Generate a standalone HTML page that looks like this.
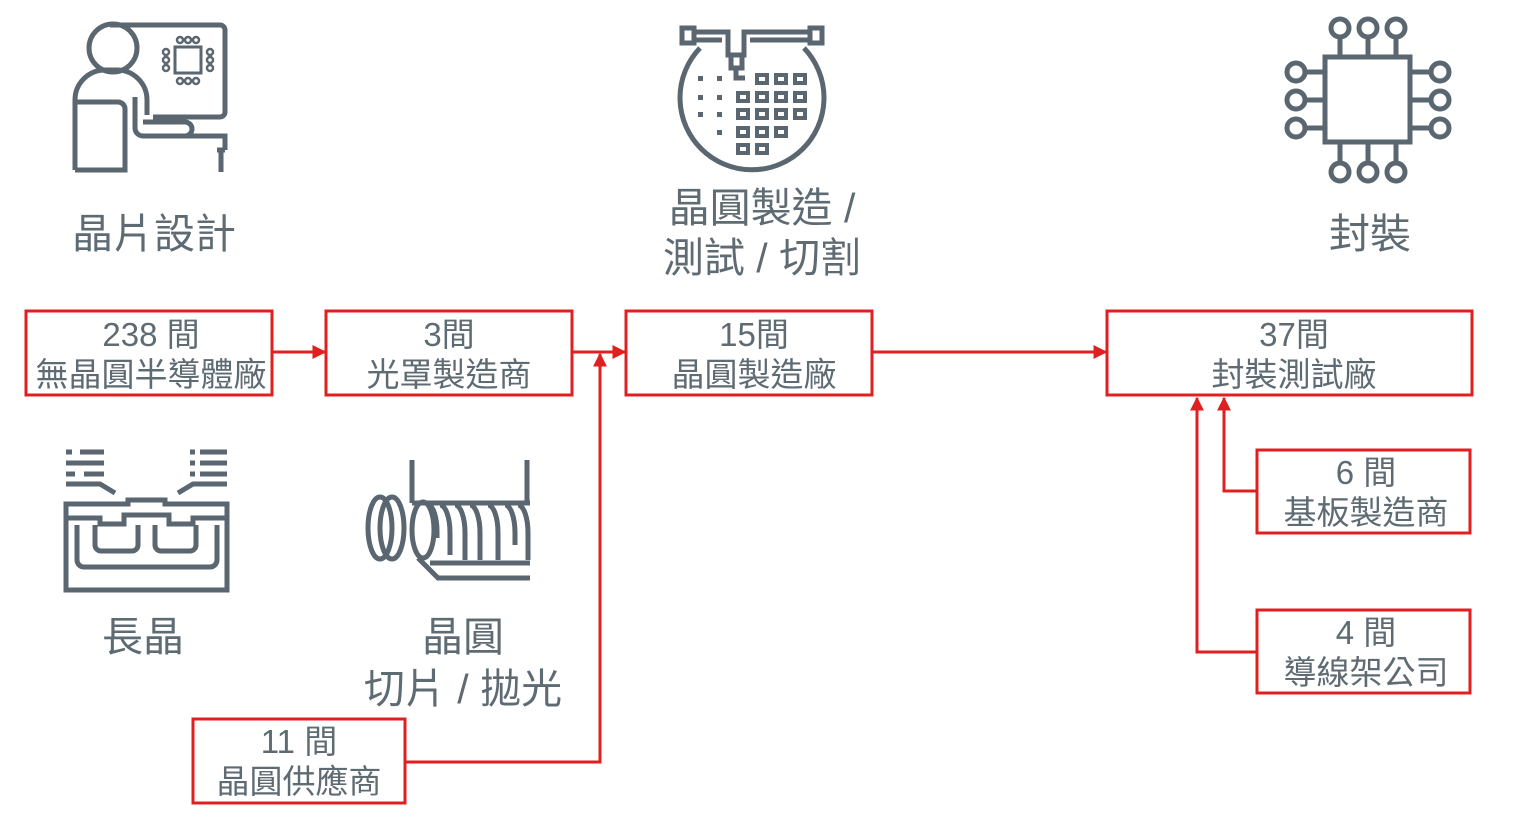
<!DOCTYPE html>
<html><head><meta charset="utf-8"><style>
html,body{margin:0;padding:0;background:#fff;}
svg{display:block;}
text{font-family:"Liberation Sans","Noto Sans CJK TC",sans-serif;fill:#5f6b73;}
</style></head><body>
<svg width="1513" height="826" viewBox="0 0 1513 826" xmlns="http://www.w3.org/2000/svg">
<defs>
<marker id="ar" viewBox="0 0 10 10" refX="9" refY="5" markerWidth="14" markerHeight="14" markerUnits="userSpaceOnUse" orient="auto"><path d="M0,0 L10,5 L0,10 z" fill="#e02020"/></marker>
</defs>
<g fill="none" stroke="#5a6670" stroke-width="5">
<!-- designer -->
<path d="M110,25 H220 a5,5 0 0 1 5,5 V112 a5,5 0 0 1 -5,5 H153"/>
<circle cx="113" cy="48" r="24"/>
<path d="M75,170 V100 a30,30 0 0 1 30,-30 h12 a30,30 0 0 1 30,30 V115"/>
<path d="M75,102 H118 a7,7 0 0 1 7,7 V170 H75"/>
<path d="M135,97 V128 a8,8 0 0 0 8,8 H225 V150 M217,150 H225 M221,150 V172"/>
<path d="M143,122 H185 a7,7 0 0 1 0,14"/>
<rect x="175" y="47" width="26" height="26" stroke-width="3"/>
<g stroke-width="2.5"><circle cx="180" cy="40" r="3"/><circle cx="188" cy="40" r="3"/><circle cx="196" cy="40" r="3"/><circle cx="180" cy="81" r="3"/><circle cx="188" cy="81" r="3"/><circle cx="196" cy="81" r="3"/><circle cx="166" cy="52" r="3"/><circle cx="166" cy="60" r="3"/><circle cx="166" cy="68" r="3"/><circle cx="210" cy="52" r="3"/><circle cx="210" cy="60" r="3"/><circle cx="210" cy="68" r="3"/></g>
<!-- wafer fab -->
<path d="M700,48 A72,72 0 1 0 804,48"/>
<rect x="682" y="28" width="12" height="15"/><rect x="810" y="28" width="12" height="15"/>
<path d="M694,32 H728 V55 H744 V32 H810 M694,40 H722 M750,40 H810"/>
<path d="M731,57 V68 H742 V57 M736,68 V78 H745"/>
<g stroke-width="4"><rect x="757" y="75" width="10" height="8"/><rect x="776" y="75" width="10" height="8"/><rect x="795" y="75" width="10" height="8"/>
<rect x="738" y="93" width="10" height="8"/><rect x="757" y="93" width="10" height="8"/><rect x="776" y="93" width="10" height="8"/><rect x="795" y="93" width="10" height="8"/>
<rect x="738" y="110" width="10" height="8"/><rect x="757" y="110" width="10" height="8"/><rect x="776" y="110" width="10" height="8"/><rect x="795" y="110" width="10" height="8"/>
<rect x="738" y="128" width="10" height="8"/><rect x="757" y="128" width="10" height="8"/><rect x="776" y="128" width="10" height="8"/>
<rect x="738" y="145" width="10" height="8"/><rect x="757" y="145" width="10" height="8"/></g>
</g>
<g fill="#5a6670">
<rect x="698" y="76" width="5" height="5"/><rect x="717" y="76" width="5" height="5"/>
<rect x="698" y="95" width="5" height="5"/><rect x="717" y="95" width="5" height="5"/>
<rect x="698" y="112" width="5" height="5"/><rect x="717" y="112" width="5" height="5"/>
<rect x="717" y="130" width="5" height="5"/>
</g>
<g fill="none" stroke="#5a6670" stroke-width="5">
<!-- chip -->
<rect x="1325" y="57" width="85" height="85"/>
<path d="M1340,57 V38 M1368,57 V38 M1396,57 V38 M1340,142 V162 M1368,142 V162 M1396,142 V162 M1325,72 H1306 M1325,100 H1306 M1325,128 H1306 M1410,72 H1430 M1410,100 H1430 M1410,128 H1430"/>
<circle cx="1340" cy="28" r="9"/><circle cx="1368" cy="28" r="9"/><circle cx="1396" cy="28" r="9"/>
<circle cx="1340" cy="172" r="9"/><circle cx="1368" cy="172" r="9"/><circle cx="1396" cy="172" r="9"/>
<circle cx="1296" cy="72" r="9"/><circle cx="1296" cy="100" r="9"/><circle cx="1296" cy="128" r="9"/>
<circle cx="1440" cy="72" r="9"/><circle cx="1440" cy="100" r="9"/><circle cx="1440" cy="128" r="9"/>
<!-- crystal growth -->
<path d="M66,452 H72 M80,452 H104 M66,463 H104 M66,474 H75 M84,474 H104 M66,484 H100 L115,493"/>
<path d="M190,452 H195 M200,452 H227 M190,463 H195 M200,463 H227 M190,474 H195 M200,474 H227 M227,484 H193 L178,493"/>
<path d="M66,590 V504 H128 V500 H165 V504 H227 V590 Z"/>
<path d="M66,518 H100 V524 H124 V515 H169 V524 H193 V518 H227"/>
<path d="M77,525 V560 a7,7 0 0 0 7,7 H210 a7,7 0 0 0 7,-7 V525"/>
<path d="M95,525 V545 a6,6 0 0 0 6,6 H132 a6,6 0 0 0 6,-6 V525 M155,525 V545 a6,6 0 0 0 6,6 H190 a6,6 0 0 0 6,-6 V525"/>
<!-- slicing -->
<ellipse cx="380" cy="528" rx="12" ry="31"/><ellipse cx="392" cy="528" rx="12" ry="31"/>
<path d="M412,460 V503 M527,460 V503 M412,503 H530"/>
<ellipse cx="423" cy="530" rx="11" ry="28"/>
<path d="M418,558 L438,578 H530 M430,563 H530"/>
<path d="M428,505 a9,27 0 0 1 9,27 V538 M440,505 a10,28 0 0 1 10,28 V555 M455,505 a10,28 0 0 1 10,28 V560 M470,505 a10,28 0 0 1 10,28 V560 M488,505 a10,28 0 0 1 10,28 V560 M505,505 a10,28 0 0 1 10,28 V545 M518,505 a10,28 0 0 1 10,28 V560"/>
</g>
<!-- labels -->
<g font-size="41" text-anchor="middle">
<text x="154" y="248">晶片設計</text>
<text x="762" y="222">晶圓製造 /</text>
<text x="762" y="272">測試 / 切割</text>
<text x="1370" y="248">封裝</text>
<text x="143" y="651">長晶</text>
<text x="463" y="651">晶圓</text>
<text x="463" y="703">切片 / 拋光</text>
</g>
<!-- boxes -->
<g fill="none" stroke="#e02020" stroke-width="3">
<rect x="26" y="311" width="246" height="84"/>
<rect x="326" y="311" width="246" height="84"/>
<rect x="626" y="311" width="246" height="84"/>
<rect x="1107" y="311" width="365" height="84"/>
<rect x="1257" y="450" width="213" height="83"/>
<rect x="1257" y="610" width="213" height="83"/>
<rect x="193" y="719" width="212" height="84"/>
<path d="M272,352 H325" marker-end="url(#ar)"/>
<path d="M572,352 H625" marker-end="url(#ar)"/>
<path d="M405,762 H600 V354" marker-end="url(#ar)"/>
<path d="M872,352 H1106" marker-end="url(#ar)"/>
<path d="M1257,491 H1224 V398" marker-end="url(#ar)"/>
<path d="M1257,652 H1197 V398" marker-end="url(#ar)"/>
</g>
<g font-size="33" text-anchor="middle">
<text x="151" y="346">238 間</text><text x="151" y="386">無晶圓半導體廠</text>
<text x="449" y="346">3間</text><text x="449" y="386">光罩製造商</text>
<text x="754" y="346">15間</text><text x="754" y="386">晶圓製造廠</text>
<text x="1294" y="346">37間</text><text x="1294" y="386">封裝測試廠</text>
<text x="1366" y="484">6 間</text><text x="1366" y="524">基板製造商</text>
<text x="1366" y="644">4 間</text><text x="1366" y="684">導線架公司</text>
<text x="299" y="753">11 間</text><text x="299" y="793">晶圓供應商</text>
</g>
</svg>
</body></html>
